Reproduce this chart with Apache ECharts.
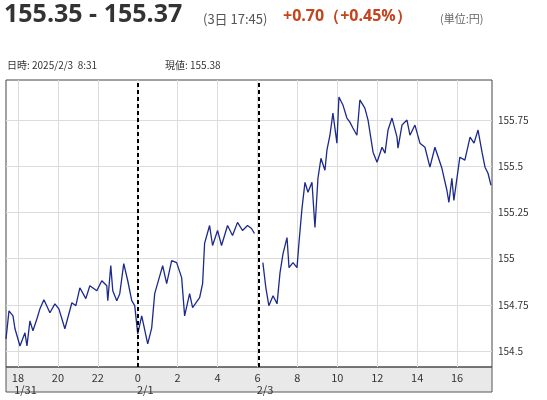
<!DOCTYPE html>
<html>
<head>
  <meta charset="utf-8"/>
  <title>USD/JPY</title>
  <script src="https://cdn.jsdelivr.net/npm/echarts@6/dist/echarts.min.js"></script>
  <style>html,body{margin:0;padding:0;background:#fff;}#main{width:547px;height:400px;}</style>
</head>
<body>
<div id="main"></div>
<script>
// 時間軸は 1/31 18:00 を 0 とした圧縮時間（週末を詰めている）
var times = [-0.6,-0.45,-0.25,-0.15,0.1,0.35,0.45,0.6,0.75,0.95,1.1,1.3,1.6,1.85,2.05,2.35,2.7,2.9,3.1,3.4,3.6,3.95,4.2,4.45,4.5,4.65,4.75,4.95,5.1,5.3,5.5,5.7,5.85,
  6.0,6.2,6.5,6.7,6.85,7.25,7.45,7.7,7.95,8.2,8.35,8.6,8.75,9.1,9.25,9.35,9.6,9.75,10.0,10.2,10.5,10.75,11.0,11.25,11.5,11.7,11.85,
  12.0,
  12.27,12.42,12.57,12.78,12.98,13.13,13.28,13.48,13.58,13.78,13.98,14.08,14.23,14.38,14.53,14.73,14.88,15.03,15.18,15.38,15.48,15.63,15.78,15.98,16.08,16.28,16.48,16.63,16.78,16.98,17.13,17.38,17.54,17.79,17.99,18.24,18.39,18.54,18.74,18.99,19.04,19.24,19.49,19.64,19.89,20.14,20.39,20.64,20.89,21.24,21.49,21.59,21.74,21.84,22.14,22.39,22.65,22.85,23.05,23.25,23.4,23.55,23.7];
var prices = [154.565,154.717,154.690,154.620,154.527,154.598,154.527,154.663,154.609,154.674,154.728,154.777,154.707,154.755,154.728,154.620,154.761,154.745,154.842,154.783,154.853,154.826,154.880,154.853,154.772,154.962,154.826,154.772,154.810,154.973,154.880,154.772,154.745,
  154.592,154.690,154.538,154.625,154.810,154.962,154.864,154.989,154.978,154.897,154.690,154.810,154.734,154.788,154.864,155.082,155.179,155.071,155.152,155.071,155.179,155.125,155.196,155.152,155.179,155.163,155.136,
  null,
  154.978,154.842,154.745,154.799,154.755,154.924,155.027,155.114,154.951,154.978,154.951,155.087,155.272,155.413,155.359,155.413,155.168,155.435,155.543,155.478,155.587,155.668,155.788,155.625,155.875,155.832,155.761,155.739,155.707,155.668,155.859,155.815,155.750,155.576,155.522,155.603,155.571,155.696,155.761,155.658,155.598,155.723,155.750,155.668,155.723,155.625,155.603,155.495,155.603,155.489,155.370,155.304,155.435,155.315,155.549,155.533,155.658,155.625,155.696,155.576,155.495,155.462,155.397];

var xTicks = [0,2,4,6,8,10,12,14,16,18,20,22];
var xTickLabels = ['18','20','22','0','2','4','6','8','10','12','14','16'];
var xDateLabels = {0:'1/31', 6:'2/1', 12:'2/3'};
var yTicks = [154.5,154.75,155,155.25,155.5,155.75];
var dayBreaks = [6, 12.07];

var chart = echarts.init(document.getElementById('main'));
var font = '"Noto Sans CJK JP", "Noto Sans", sans-serif';
var numFont = '"Open Sans", "Noto Sans", sans-serif';

var data = times.map(function(t, i){ return [t, prices[i]]; });

chart.setOption({
  animation: false,
  textStyle: { fontFamily: font },
  grid: { left: 6, right: 55, top: 80, bottom: 33, show: true, borderColor: '#444', borderWidth: 1, outerBoundsMode: 'none', containLabel: false },
  graphic: [
    { type: 'rect', z: -1, shape: { x: 6, y: 367, width: 486, height: 25 }, style: { fill: '#e9e9e9', stroke: '#555', lineWidth: 1 } },
    { type: 'text', left: 4, top: 2, style: { text: '155.35 - 155.37', font: 'bold 25px ' + numFont, fill: '#333' } },
    { type: 'text', left: 203, top: 13, style: { text: '(3日 17:45)', font: '13px ' + font, fill: '#555' } },
    { type: 'text', left: 283, top: 8, style: { text: '+0.70（+0.45%）', font: 'bold 16px ' + numFont, fill: '#c4441c' } },
    { type: 'text', left: 440, top: 13, style: { text: '(単位:円)', font: '11px ' + font, fill: '#666' } },
    { type: 'text', left: 7, top: 60, style: { text: '日時: 2025/2/3  8:31', font: '10px ' + font, fill: '#333' } },
    { type: 'text', left: 165, top: 60, style: { text: '現値: 155.38', font: '10px ' + font, fill: '#333' } }
  ],
  xAxis: {
    type: 'value', min: -0.6, max: 23.75,
    axisLine: { show: false },
    axisTick: { show: false, customValues: xTicks },
    splitLine: { show: true, lineStyle: { color: '#dcdcdc' } },
    axisLabel: {
      customValues: xTicks, color: '#333', fontSize: 11, margin: 5,
      formatter: function(v){
        var i = xTicks.indexOf(v);
        var s = '{h|' + xTickLabels[i] + '}';
        if (xDateLabels[v]) s += '\n{d|' + xDateLabels[v] + '}';
        return s;
      },
      rich: {
        h: { fontSize: 11, lineHeight: 12, color: '#333' },
        d: { fontSize: 11, lineHeight: 12, color: '#333', padding: [0, 0, 0, 15] }
      }
    }
  },
  yAxis: {
    type: 'value', position: 'right', min: 154.413, max: 155.967,
    axisLine: { show: false },
    axisTick: { show: false, customValues: yTicks },
    splitLine: { show: true, lineStyle: { color: '#dcdcdc' } },
    axisLabel: { customValues: yTicks, color: '#333', fontSize: 10, margin: 6,
      formatter: function(v){ return String(+v.toFixed(2)); } }
  },
  series: [{
    type: 'line', data: data, showSymbol: false, connectNulls: false,
    lineStyle: { color: '#1c2a8c', width: 1.3 },
    markLine: {
      silent: true, symbol: 'none', label: { show: false },
      lineStyle: { color: '#000', type: [4, 3], width: 2 },
      data: dayBreaks.map(function(t){ return { xAxis: t }; })
    }
  }]
});
</script>
</body>
</html>
